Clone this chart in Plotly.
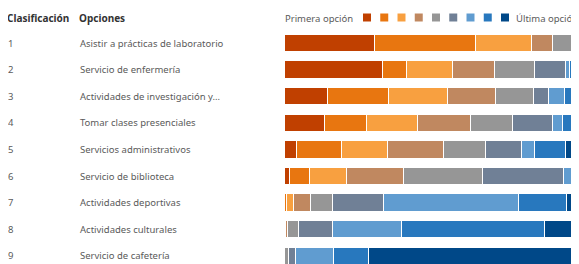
import plotly.graph_objects as go

ranks = [1, 2, 3, 4, 5, 6, 7, 8, 9]
options = [
    "Asistir a prácticas de laboratorio",
    "Servicio de enfermería",
    "Actividades de investigación y…",
    "Tomar clases presenciales",
    "Servicios administrativos",
    "Servicio de biblioteca",
    "Actividades deportivas",
    "Actividades culturales",
    "Servicio de cafetería",
]
# share (%) of respondents placing each option at position 1..9 (Primera -> Última)
pos1 = [27.3, 29.7, 13.3, 12.4, 3.9, 1.8, 0.3, 0.0, 0.0]
pos2 = [30.6, 7.3, 18.5, 12.7, 13.6, 5.8, 0.5, 0.3, 0.0]
pos3 = [17.0, 14.2, 17.6, 15.5, 13.9, 11.2, 2.1, 0.3, 0.0]
pos4 = [6.4, 12.7, 14.8, 15.8, 17.0, 17.3, 5.2, 0.6, 0.3]
pos5 = [7.3, 12.1, 11.5, 12.7, 12.7, 24.2, 6.7, 3.3, 1.2]
pos6 = [3.5, 9.4, 4.5, 12.4, 10.9, 24.5, 15.5, 10.3, 2.1]
pos7 = [2.5, 1.2, 4.8, 3.0, 3.9, 4.2, 40.9, 20.9, 11.5]
pos8 = [3.0, 7.0, 9.0, 9.0, 9.4, 6.0, 14.5, 43.3, 10.6]
pos9 = [2.4, 6.4, 6.0, 6.5, 14.7, 5.8, 14.3, 21.0, 74.3]
series = [pos1, pos2, pos3, pos4, pos5, pos6, pos7, pos8, pos9]

colors = ["#C04000", "#E87610", "#F8A040", "#C08860", "#969696",
          "#708096", "#609CD0", "#2878BE", "#004888"]
legend_start = "Primera opción"
legend_end = "Última opción"
header_rank = "Clasificación"
header_opt = "Opciones"

# page body has an 8px margin: figure drawn at (8, 8) inside the 579x264 window
OFF = 8
W, H = 579 - OFF, 264 - OFF


def px(x):
    return (x - OFF) / W


def py(y):
    return 1 - (y - OFF) / H


fig = go.Figure()
for vals, col in zip(series, colors):
    fig.add_trace(go.Bar(
        x=vals, y=ranks, orientation="h", width=0.66,
        marker=dict(color=col, line=dict(color="white", width=1)),
        showlegend=False, hoverinfo="skip"))

font = "Noto Sans, Open Sans, sans-serif"
ann = []
for r, o in zip(ranks, options):
    ann.append(dict(x=px(6), xref="paper", y=r, yref="y", text=str(r), yanchor="middle",
                    showarrow=False, xanchor="left", font=dict(size=9.5, color="#5a5a5a", family=font)))
    ann.append(dict(x=px(78), xref="paper", y=r, yref="y", text=o, yanchor="middle",
                    showarrow=False, xanchor="left", font=dict(size=9.5, color="#5a5a5a", family=font)))
hy = py(18)
ann.append(dict(x=px(5), xref="paper", y=hy, yref="paper", text="<b>" + header_rank + "</b>",
                yanchor="middle", showarrow=False, xanchor="left",
                font=dict(size=10, color="#333", family=font)))
ann.append(dict(x=px(77), xref="paper", y=hy, yref="paper", text="<b>" + header_opt + "</b>",
                yanchor="middle", showarrow=False, xanchor="left",
                font=dict(size=10, color="#333", family=font)))
ann.append(dict(x=px(283), xref="paper", y=hy, yref="paper", text=legend_start,
                yanchor="middle", showarrow=False, xanchor="left",
                font=dict(size=9.5, color="#5a5a5a", family=font)))
ann.append(dict(x=px(514), xref="paper", y=hy, yref="paper", text=legend_end,
                yanchor="middle", showarrow=False, xanchor="left",
                font=dict(size=9.5, color="#5a5a5a", family=font)))

shapes = []
for i, col in enumerate(colors):
    x0 = 363 + i * 17.25
    shapes.append(dict(type="rect", xref="paper", yref="paper",
                       x0=px(x0), x1=px(x0 + 8), y0=py(21.5), y1=py(13.5),
                       fillcolor=col, line=dict(width=0)))

# bar rows: row 1 centred at y=43px, pitch 26.6px
row0, pitch = 43, 26.6
fig.update_layout(
    width=W, height=H, barmode="stack",
    margin=dict(l=0, r=0, t=0, b=0),
    plot_bgcolor="white", paper_bgcolor="white",
    xaxis=dict(domain=[px(284), 1], range=[0, 100 * (579 - 284) / 330],
               visible=False, fixedrange=True),
    yaxis=dict(range=[1 + (264 - row0) / pitch, 1 - (row0 - OFF) / pitch], visible=False),
    annotations=ann, shapes=shapes,
)
fig.write_html("out.html")
